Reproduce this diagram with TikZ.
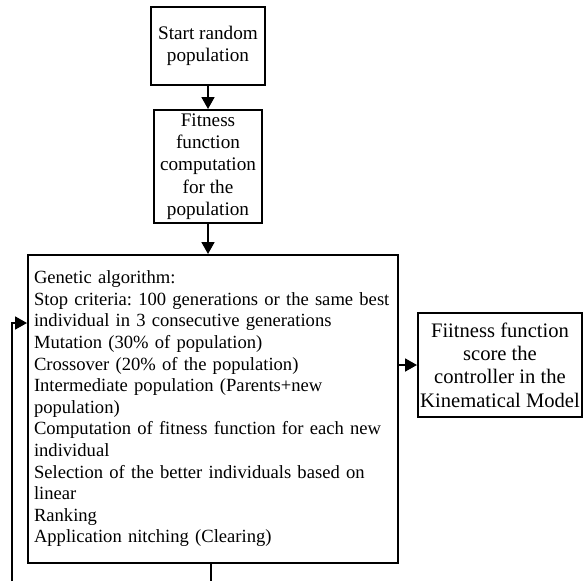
\documentclass[tikz,border=0pt]{standalone}
\usepackage{fontspec}
\setmainfont{Liberation Serif}
\usetikzlibrary{arrows.meta}
\frenchspacing
\begin{document}
\begin{tikzpicture}[x=1pt,y=-1pt,
  box/.style={draw, line width=2pt, inner sep=0pt, align=center, font=\fontsize{19.2}{22.3}\selectfont},
  conn/.style={line width=1.8pt, -{Triangle[length=12pt,width=13pt]}},
  plain/.style={line width=1.8pt}]
\useasboundingbox (0,0) rectangle (586,581);
\node[box, minimum width=114pt, minimum height=78pt] (start) at (208,46) {Start random\\population};
\node[box, minimum width=108pt, minimum height=113pt] (fit) at (208,166.5) {Fitness\\function\\computation\\for the\\population};
\node[box, minimum width=370pt, minimum height=308pt, text width=358pt, inner xsep=6pt, align=left,
      font=\fontsize{18.6}{21.6}\selectfont] (ga) at (213,409)
 {\begin{tabular}{@{}l@{}}
  Genetic algorithm:\\
  Stop criteria: 100 generations or the same best\\
  individual in 3 consecutive generations\\
  Mutation (30\% of population)\\
  Crossover (20\% of the population)\\
  Intermediate population (Parents+new\\
  population)\\
  Computation of fitness function for each new\\
  individual\\
  Selection of the better individuals based on\\
  linear\\
  Ranking\\
  Application nitching (Clearing)
  \end{tabular}};
\node[box, minimum width=164pt, minimum height=104pt, font=\fontsize{20.6}{23.3}\selectfont] (score) at (500,365)
 {Fiitness function\\score the\\controller in the\\Kinematical Model};
\coordinate (fbbot) at (12,581);
\coordinate (fbtop) at (12,323);
\coordinate (out) at (211,581);
\draw[conn] (start.south) -- (start.south |- fit.north);
\draw[conn] (fit.south) -- (fit.south |- ga.north);
\draw[conn] (ga.east |- score.west) -- (score.west);
\draw[conn] (fbbot) -- (fbtop) -- (fbtop -| ga.west);
\draw[plain] (ga.south -| out) -- (out);
\end{tikzpicture}
\end{document}
